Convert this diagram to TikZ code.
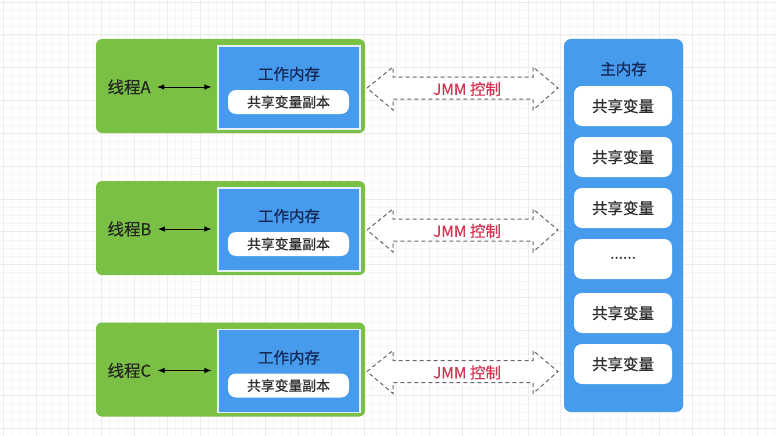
\documentclass[tikz,border=0pt]{standalone}
\usepackage{fontspec}
\setmainfont{Noto Sans CJK SC}
\newfontfamily\medfont{Noto Sans CJK SC}[FakeBold=0.8]
\newfontfamily\semifont{Noto Sans CJK SC}[FakeBold=0.4]
\usetikzlibrary{arrows.meta}
\definecolor{thgreen}{RGB}{122,192,68}
\definecolor{memblue}{RGB}{70,155,236}
\definecolor{navy}{RGB}{22,40,88}
\definecolor{txtdark}{RGB}{45,45,45}
\definecolor{jmmred}{RGB}{214,52,82}
\definecolor{gridc}{RGB}{236,236,236}
\tikzset{
  thread/.style={fill=thgreen, rounded corners=6pt, minimum width=269pt, minimum height=94pt, inner sep=0pt},
  work/.style={fill=memblue, draw=white!85!memblue, line width=1.2pt, minimum width=142pt, minimum height=83pt, inner sep=0pt},
  worktitle/.style={text=navy, font=\medfont\fontsize{15.5}{17}\selectfont},
  pill/.style={fill=white, rounded corners=8pt, minimum width=121pt, minimum height=24pt, inner sep=0pt, text=txtdark, font=\semifont\fontsize{13.8}{15}\selectfont},
  tlabel/.style={text=black!85, font=\semifont\fontsize{16.5}{18}\selectfont},
  link/.style={{Latex[length=7pt,width=5.5pt]}-{Latex[length=7pt,width=5.5pt]}, line width=0.9pt, black},
  jmmarrow/.style={draw=black!60, fill=white, dashed, dash pattern=on 4pt off 3pt, line width=1pt},
  jmmtext/.style={text=jmmred, font=\semifont\fontsize{15.5}{17}\selectfont},
  mainmem/.style={fill=memblue, rounded corners=7pt, minimum width=119pt, minimum height=373pt, inner sep=0pt},
  var/.style={fill=white, rounded corners=8pt, minimum width=98pt, minimum height=40pt, inner sep=0pt, text=txtdark, font=\semifont\fontsize{15.5}{17}\selectfont},
}
\begin{document}
\begin{tikzpicture}[x=1pt,y=-1pt]
\useasboundingbox (0,0) rectangle (776,436);
\fill[white] (0,0) rectangle (776,436);
\foreach \gx in {3,11.2,...,776} \draw[gridc!50, line width=0.4pt] (\gx,0) -- (\gx,436);
\foreach \gy in {2,10.2,...,436} \draw[gridc!50, line width=0.4pt] (0,\gy) -- (776,\gy);
\foreach \gx in {3,35.8,...,776} \draw[gridc, line width=0.6pt] (\gx,0) -- (\gx,436);
\foreach \gy in {2,34.8,...,436} \draw[gridc, line width=0.6pt] (0,\gy) -- (776,\gy);

% threads
\foreach \n/\L/\dy in {A/A/0, B/B/142, C/C/283.5} {
  \node[thread] (thr\n) at (230.5,86+\dy) {};
  \node[work] (work\n) at (289,87.5+\dy) {};
  \node[worktitle] (wt\n) at (289,74+\dy) {工作内存};
  \node[pill] (copy\n) at (288.5,102+\dy) {共享变量副本};
  \node[tlabel, anchor=west] (lab\n) at (104,87+\dy) {线程\L};
  \draw[link] (lab\n.east) ++(3,0) -- ([xshift=-6pt]work\n.west |- lab\n.east);
  \draw[jmmarrow] (367,88+\dy) -- (393,67+\dy) -- (393,77+\dy) -- (533,77+\dy) -- (533,67+\dy) -- (558,88+\dy) -- (533,110+\dy) -- (533,99+\dy) -- (393,99+\dy) -- (393,110+\dy) -- cycle;
  \node[jmmtext] (jmm\n) at (467,89+\dy) {JMM 控制};
}

% main memory
\node[mainmem] (main) at (623.5,225.5) {};
\node[worktitle] (maintitle) at (623.5,69) {主内存};
\node[var] (v1) at (623,106) {共享变量};
\node[var] (v2) at (623,157) {共享变量};
\node[var] (v3) at (623,208) {共享变量};
\node[var] (v4) at (623,259) {\raisebox{0.3ex}{......}};
\node[var] (v5) at (623,313) {共享变量};
\node[var] (v6) at (623,364) {共享变量};
\end{tikzpicture}
\end{document}
